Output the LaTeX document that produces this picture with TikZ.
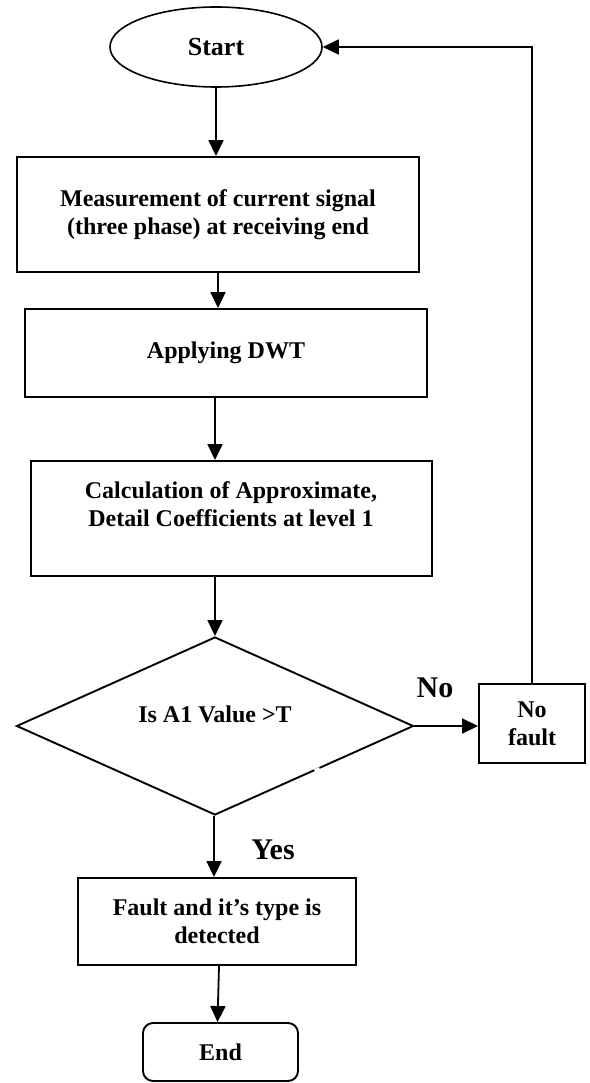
\documentclass[tikz,border=0pt]{standalone}
\usepackage{fontspec}
\setmainfont{Liberation Serif}
\usetikzlibrary{shapes.geometric,arrows.meta,calc}
\tikzset{
  every node/.style={font=\fontsize{24}{28}\selectfont\bfseries},
  box/.style={draw, line width=1.9pt, rectangle, inner sep=0pt, align=center},
  term/.style={draw, line width=1.6pt, ellipse, inner sep=0pt},
  endbox/.style={draw, line width=1.9pt, rectangle, rounded corners=10pt, inner sep=0pt},
  decision/.style={draw, line width=1.9pt, diamond, inner sep=0pt, aspect=2.23},
  txt/.style={align=center, inner sep=0pt},
  biglabel/.style={font=\fontsize{30}{34}\selectfont\bfseries, inner sep=0pt},
  arr/.style={line width=1.8pt, -{Triangle[length=16pt,width=15pt]}}
}
\begin{document}
\begin{tikzpicture}[x=1pt,y=-1pt]
\useasboundingbox (0,0) rectangle (589,1083);
% nodes
\node[term, minimum width=212pt, minimum height=80pt, font=\fontsize{26}{30}\selectfont\bfseries] (start) at (216,47) {Start};
\node[box, minimum width=402pt, minimum height=115pt] (meas) at (218,214.5) {Measurement of current signal\\(three phase) at receiving end};
\node[box, minimum width=402pt, minimum height=88pt] (dwt) at (226,353) {Applying DWT};
\node[box, minimum width=401pt, minimum height=115pt] (calc) at (231.5,518.5) {};
\node[txt] (calct) at (231,504) {Calculation of Approximate,\\Detail Coefficients at level 1};
\node[decision, minimum width=397pt, minimum height=178pt] (dia) at (215,726) {};
\node[txt] (diat) at (215,714) {Is A1 Value >T};
\node[box, minimum width=106pt, minimum height=79pt] (nofault) at (532,723.5) {No\\fault};
\node[box, minimum width=278pt, minimum height=87pt] (fault) at (217,921.5) {Fault and it’s type is\\detected};
\node[endbox, minimum width=155pt, minimum height=58pt] (end) at (220.5,1052) {End};
\node[biglabel] (lno) at (435,688) {No};
\node[biglabel] (lyes) at (273,850) {Yes};
% small gap in the diamond edge
\coordinate (g1) at ($(dia.east)!0.475!(dia.south)$);
\coordinate (g2) at ($(dia.east)!0.50!(dia.south)$);
\draw[white, line width=3.5pt] (g1) -- (g2);
% connectors
\draw[arr] (start.south) -- (start.south |- meas.north);
\draw[arr] (meas.south) -- (meas.south |- dwt.north);
\draw[arr] ([xshift=-11pt]dwt.south) -- ([xshift=-11pt]dwt.south |- calc.north);
\draw[arr] (dia.north |- calc.south) -- (dia.north);
\draw[arr] (dia.east) -- (dia.east -| nofault.west);
\draw[arr] (nofault.north) |- (start.east);
\draw[arr] ([xshift=-1pt]dia.south) -- ([xshift=-1pt]dia.south |- fault.north);
\draw[arr] ([xshift=2pt]fault.south) -- ([xshift=-3pt]end.north);
\end{tikzpicture}
\end{document}
